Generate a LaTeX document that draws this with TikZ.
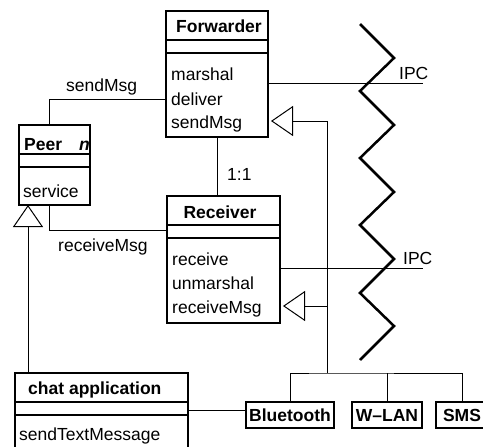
\documentclass[tikz,border=0pt]{standalone}
\usepackage{fontspec}
\setmainfont{Liberation Sans}
\usetikzlibrary{arrows.meta}
\begin{document}
\begin{tikzpicture}[x=1pt,y=-1pt,
  box/.style={draw,line width=1.1pt,inner sep=0pt,outer sep=0pt},
  lbl/.style={anchor=base west,inner sep=0pt,font=\fontsize{17.5}{21}\selectfont},
  ttl/.style={anchor=base,inner sep=0pt,font=\fontsize{17.5}{21}\selectfont\bfseries},
  btxt/.style={font=\fontsize{17.5}{21}\selectfont\bfseries},
  conn/.style={line width=1pt},
  inh/.style={line width=1pt,-{Triangle[open,length=22pt,width=30pt,line width=1pt]}},
  zig/.style={line width=2.5pt}]
\clip (0,0) rectangle (483,447);
% class boxes
\node[box,minimum width=102pt,minimum height=126pt] (fwd) at (217,74) {};
\node[box,minimum width=71pt,minimum height=80pt] (peer) at (54.5,165) {};
\node[box,minimum width=113pt,minimum height=127pt] (recv) at (223.5,259.5) {};
\node[box,minimum width=173pt,minimum height=90pt] (chat) at (101.5,418) {};
\node[box,btxt,minimum width=88pt,minimum height=26pt] (bt) at (290,415) {Bluetooth};
\node[box,btxt,minimum width=70pt,minimum height=26pt] (wlan) at (387,415) {W\textendash LAN};
\node[box,btxt,minimum width=52pt,minimum height=26pt] (sms) at (462,415) {SMS};
\foreach \n in {fwd,peer,recv,chat}
  \foreach \d in {29,42}
    \draw[box] ([yshift=-\d pt]\n.north west) -- ([yshift=-\d pt]\n.north east);
% texts
\node[ttl] (fwdt) at (219,32) {Forwarder};
\node[lbl] (fm1) at (171,81) {marshal};
\node[lbl] (fm2) at (171,105) {deliver};
\node[lbl] (fm3) at (171,128) {sendMsg};
\node[lbl] (peert) at (24,150) {\bfseries Peer};
\node[lbl] (peern) at (79,150) {\bfseries\itshape n};
\node[lbl] (pm1) at (23,197) {service};
\node[ttl] (recvt) at (220,218) {Receiver};
\node[lbl] (rm1) at (172,265) {receive};
\node[lbl] (rm2) at (172,289) {unmarshal};
\node[lbl] (rm3) at (172,313) {receiveMsg};
\node[lbl] (chatt) at (28,394) {\bfseries chat application};
\node[lbl] (cm1) at (19,440) {sendTextMessage};
\node[lbl] (l1) at (66,91) {sendMsg};
\node[lbl] (l2) at (58,251) {receiveMsg};
\node[lbl] (l3) at (227,180) {1:1};
\node[lbl] (l4) at (399,79) {IPC};
\node[lbl] (l5) at (403,264) {IPC};
% zigzag
\draw[zig] (360,24) -- (394,58) -- (360,91) -- (394,125) -- (360,158) -- (394,192)
  -- (360,225) -- (394,259) -- (360,293) -- (394,326) -- (360,360);
% connectors
\coordinate (ipcA) at (423,83);
\coordinate (ipcB) at (423,268);
\coordinate (jf) at (327,121);
\coordinate (jr) at (327,306);
\coordinate (jb) at (327,373);
\draw[conn] ([xshift=30pt]peer.north west) |- ([yshift=-25pt]fwd.west);
\draw[conn] ([xshift=30pt]peer.south west) |- ([yshift=29.5pt]recv.west);
\draw[conn] (fwd.south) -- (fwd.south |- recv.north);
\draw[conn] ([yshift=-9pt]fwd.east) -- (ipcA);
\draw[conn] ([yshift=-8.5pt]recv.east) -- (ipcB);
\draw[inh] ([xshift=13pt]chat.north west) -- ([xshift=13pt]chat.north west |- peer.south);
\draw[conn] (jf) -- (jb);
\draw[inh] (jf) -- ([xshift=3pt]fwd.east |- jf);
\draw[inh] (jr) -- ([xshift=3pt]recv.east |- jr);
\draw[conn] (bt.north) |- (jb) -| (sms.north);
\draw[conn] (wlan.north) -- (wlan.north |- jb);
\draw[conn] ([yshift=5pt]bt.west) -- ([yshift=5pt]bt.west -| chat.east);
\end{tikzpicture}
\end{document}
